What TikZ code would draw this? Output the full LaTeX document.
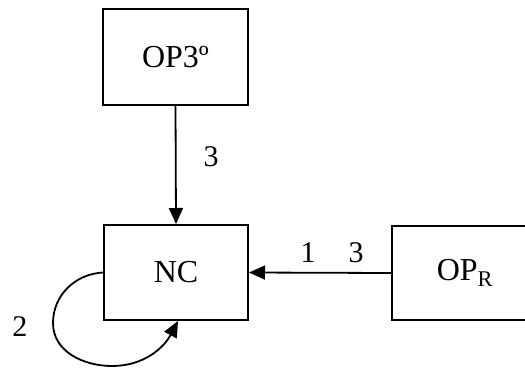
\documentclass[tikz,border=0pt]{standalone}
\usepackage{fontspec}
\setmainfont{Liberation Serif}
\usetikzlibrary{arrows.meta}
\begin{document}
\begin{tikzpicture}[x=1pt,y=-1pt,
  box/.style={draw,line width=2pt,inner sep=0pt,font=\fontsize{32}{38}\selectfont},
  lbl/.style={font=\fontsize{30}{36}\selectfont,inner sep=0pt},
  conn/.style={line width=1.8pt,-{Triangle[length=16pt,width=14pt]}}]
\useasboundingbox (0,0) rectangle (525,369);
\clip (0,0) rectangle (525,369);
\node[box,minimum width=145pt,minimum height=96pt] (op3) at (175.5,57) {OP3º};
\node[box,minimum width=144pt,minimum height=95pt] (nc) at (176,272.5) {NC};
\node[box,minimum width=146pt,minimum height=94pt] (opr) at (465,273) {OP\textsubscript{R}};
\coordinate (loopl) at (53,323);
\coordinate (loopb) at (112,366);
\draw[conn] (op3.south) -- (nc.north);
\draw[conn] (opr.west) -- (nc.east);
\draw[conn] (nc.west) to[out=183,in=90] (loopl) to[out=-90,in=180] (loopb) to[out=0,in=-118] ([xshift=2pt]nc.south);
\node[lbl] (l3a) at (211,157) {3};
\node[lbl] (l1) at (308,253) {1};
\node[lbl] (l3b) at (356,253) {3};
\node[lbl] (l2) at (20,327) {2};
\end{tikzpicture}
\end{document}
